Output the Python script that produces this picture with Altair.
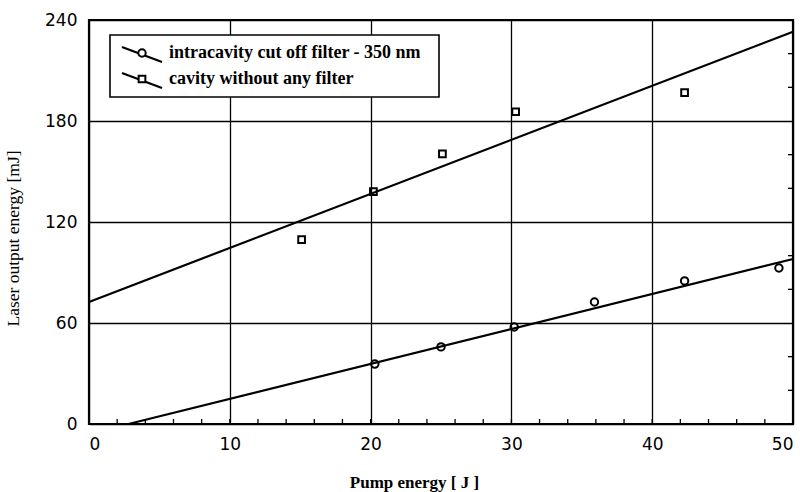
import altair as alt
import pandas as pd

# ---- data ----
sq_x = [15.1, 20.2, 25.1, 30.3, 42.3]
sq_y = [109.5, 138.0, 160.5, 185.5, 196.8]
ci_x = [20.3, 25.0, 30.2, 35.9, 42.3, 49.0]
ci_y = [35.6, 45.8, 57.6, 72.5, 85.0, 92.7]
fit_sq_x = [0, 50]
fit_sq_y = [72.5, 233.0]
fit_ci_x = [2.8, 50]
fit_ci_y = [0, 98.0]
x_ticks = [0, 10, 20, 30, 40, 50]
y_ticks = [0, 60, 120, 180, 240]
minor_x = list(range(2, 50, 2))
minor_y = [20, 40, 80, 100, 140, 160, 200, 220]
legend_labels = ["intracavity cut off filter - 350 nm", "cavity without any filter"]

W, H = 704, 404

xs = alt.Scale(domain=[0, 50], nice=False, zero=False)
ys = alt.Scale(domain=[0, 240], nice=False, zero=False)

xax = alt.Axis(values=x_ticks, title="Pump energy [ J ]", format="d",
               titleX=325, titleFontWeight="bold", titleFontSize=17)
yax = alt.Axis(values=y_ticks, title="Laser output energy [mJ]", format="d",
               titleY=218, titleFontWeight="normal", titleFontSize=17.5)

sq = pd.DataFrame({"x": sq_x, "y": sq_y})
ci = pd.DataFrame({"x": ci_x, "y": ci_y})
fsq = pd.DataFrame({"x": fit_sq_x, "y": fit_sq_y})
fci = pd.DataFrame({"x": fit_ci_x, "y": fit_ci_y})

base_axes = alt.Chart(pd.DataFrame({"x": [0], "y": [0]})).mark_point(opacity=0).encode(
    x=alt.X("x:Q", scale=xs, axis=xax),
    y=alt.Y("y:Q", scale=ys, axis=yax),
)

line_sq = alt.Chart(fsq).mark_line(color="black", strokeWidth=2.2).encode(
    x=alt.X("x:Q", scale=xs), y=alt.Y("y:Q", scale=ys))
line_ci = alt.Chart(fci).mark_line(color="black", strokeWidth=2.2).encode(
    x=alt.X("x:Q", scale=xs), y=alt.Y("y:Q", scale=ys))

pts_sq = alt.Chart(sq).mark_point(shape="square", filled=False, color="black",
                                  strokeWidth=2, size=45, opacity=1).encode(
    x=alt.X("x:Q", scale=xs), y=alt.Y("y:Q", scale=ys))
pts_ci = alt.Chart(ci).mark_point(shape="circle", filled=False, color="black",
                                  strokeWidth=2, size=55, opacity=1).encode(
    x=alt.X("x:Q", scale=xs), y=alt.Y("y:Q", scale=ys))

mx = alt.Chart(pd.DataFrame({"x": minor_x})).mark_rule(color="black", strokeWidth=1.3).encode(
    x=alt.X("x:Q", scale=xs), y=alt.value(H - 5), y2=alt.value(H))
my = alt.Chart(pd.DataFrame({"y": minor_y})).mark_rule(color="black", strokeWidth=1.3).encode(
    y=alt.Y("y:Q", scale=ys), x=alt.value(W - 5), x2=alt.value(W))

# ---- legend (drawn by hand) ----
leg_df = pd.DataFrame({"a": [0]})
box = alt.Chart(leg_df).mark_rect(fill="white", stroke="black", strokeWidth=1.6).encode(
    x=alt.value(21), x2=alt.value(350), y=alt.value(15), y2=alt.value(77))
legend_layers = [box]
rows = [(33, "circle", 55), (59, "square", 45)]
for (yc, shape, sz), lab in zip(rows, legend_labels):
    legend_layers.append(alt.Chart(leg_df).mark_rule(color="black", strokeWidth=2.2).encode(
        x=alt.value(33), y=alt.value(yc - 6), x2=alt.value(73), y2=alt.value(yc + 9)))
    legend_layers.append(alt.Chart(leg_df).mark_point(shape=shape, filled=True, fill="white",
                                                      stroke="black", strokeWidth=2, size=sz,
                                                      opacity=1).encode(
        x=alt.value(53), y=alt.value(yc)))
    legend_layers.append(alt.Chart(pd.DataFrame({"t": [lab]})).mark_text(
        align="left", baseline="middle", font="Liberation Serif", fontWeight="bold",
        fontSize=18, color="black").encode(
        x=alt.value(80), y=alt.value(yc), text="t:N"))

chart = alt.layer(base_axes, mx, my, line_sq, line_ci, pts_sq, pts_ci, *legend_layers).properties(
    width=W, height=H,
    padding={"left": 89, "top": 20, "right": 9, "bottom": 68},
    autosize="none",
    background="white",
).configure_view(
    stroke="black", strokeWidth=2.2
).configure_axis(
    grid=True, gridColor="black", gridWidth=1.3, gridOpacity=1,
    domain=False, ticks=False,
    labelFont="DejaVu Sans", labelFontSize=17, labelColor="black",
    titleFont="Liberation Serif", titleColor="black",
).configure_axisX(
    labelPadding=12, titlePadding=22
).configure_axisY(
    labelPadding=12, titlePadding=22
)

chart.save("out.html", embed_options={"renderer": "svg", "actions": False})
